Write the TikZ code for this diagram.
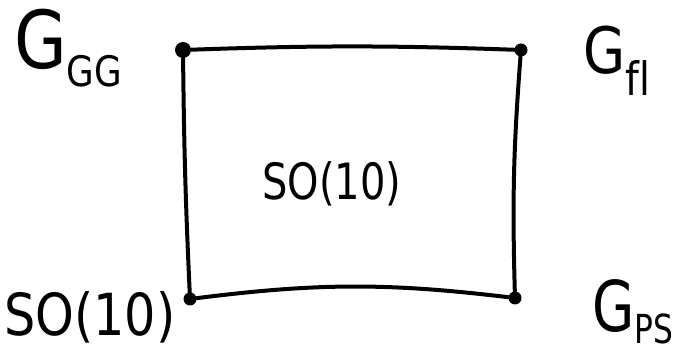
\documentclass[tikz,border=0pt]{standalone}
\usepackage{fontspec}
\setmainfont{DejaVu Sans}
\begin{document}
\begin{tikzpicture}[x=1pt,y=1pt,
  vdot/.style={circle,fill=black,inner sep=0pt,minimum size=13pt},
  edge/.style={line width=4pt,line cap=round},
  lbl/.style={inner sep=0pt,anchor=base west}]
\useasboundingbox (0,0) rectangle (696,356);
\node[vdot,minimum size=16pt] (tl) at (183,306) {};
\node[vdot] (tr) at (521,306) {};
\node[vdot] (br) at (515,58) {};
\node[vdot] (bl) at (190,57) {};
\draw[edge] (tl) to[bend left=2] (tr);
\draw[edge] (tr) to[bend right=3] (br);
\draw[edge] (bl) to[bend left=7] (br);
\draw[edge] (tl) to[bend right=1] (bl);
\node[lbl,xscale=0.85] (ggg) at (14,287) {\fontsize{80}{80}\selectfont G\raisebox{-18pt}{\fontsize{42}{42}\selectfont GG}};
\node[lbl,xscale=0.85] (gfl) at (583,282) {\fontsize{64}{64}\selectfont G\raisebox{-22pt}{\fontsize{46}{46}\selectfont f\kern1pt l}};
\node[lbl,xscale=0.78] (gps) at (592,24) {\fontsize{70}{70}\selectfont G\raisebox{-12pt}{\fontsize{40}{40}\selectfont PS}};
\node[lbl,xscale=0.85] (sob) at (4,20) {\fontsize{58}{58}\selectfont SO(10)};
\node[lbl,xscale=0.8] (soc) at (262,156) {\fontsize{50}{50}\selectfont SO(10)};
\end{tikzpicture}
\end{document}
